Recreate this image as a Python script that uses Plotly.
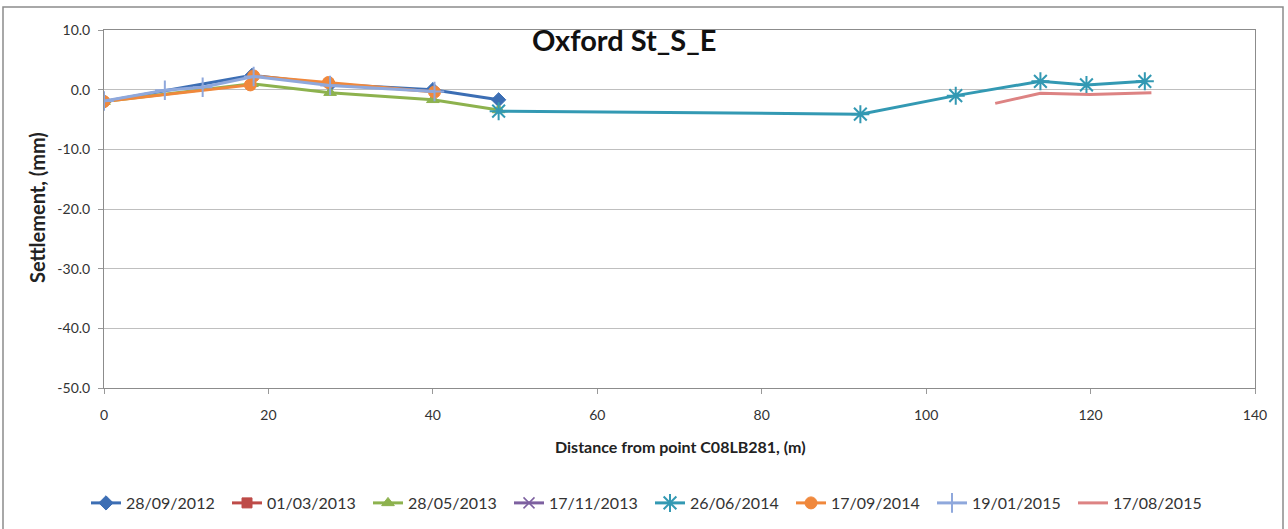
import plotly.graph_objects as go

# ---- data ----
names = ["28/09/2012", "01/03/2013", "28/05/2013", "17/11/2013",
         "26/06/2014", "17/09/2014", "19/01/2015", "17/08/2015"]

x_20120928 = [0, 18, 27.5, 40, 48]
y_20120928 = [-2.0, 2.4, 0.9, 0.0, -1.7]

x_20130301 = [None]
y_20130301 = [None]

x_20130528 = [0, 18, 27.5, 40, 48]
y_20130528 = [-2.0, 1.0, -0.5, -1.7, -3.4]

x_20131117 = [None]
y_20131117 = [None]

x_20140626 = [48, 92, 103.6, 113.9, 119.5, 126.6]
y_20140626 = [-3.6, -4.1, -1.0, 1.4, 0.8, 1.4]

x_20140917 = [0, 17.8, 18.2, 27.3, 40.2]
y_20140917 = [-2.0, 0.8, 2.3, 1.2, -0.4]

x_20150119 = [0, 7.4, 12.0, 18.2, 27.5, 40.2]
y_20150119 = [-1.9, -0.1, 0.4, 2.2, 0.7, -0.3]

x_20150817 = [108.4, 113.9, 119.9, 127.4]
y_20150817 = [-2.3, -0.6, -0.8, -0.5]

x_ticks = [0, 20, 40, 60, 80, 100, 120, 140]
y_ticks = [10, 0, -10, -20, -30, -40, -50]

# ---- styles ----
FONT = "Lato, 'Open Sans', sans-serif"
series = [
    (names[0], x_20120928, y_20120928, "#3C6EB4", "diamond", 11, 1),
    (names[1], x_20130301, y_20130301, "#BE4B48", "square", 10, 1),
    (names[2], x_20130528, y_20130528, "#8DB24E", "triangle-up", 11, 1),
    (names[3], x_20131117, y_20131117, "#7D60A0", "x-thin-open", 11, 1.5),
    (names[4], x_20140626, y_20140626, "#3399B3", "asterisk-open", 15, 2),
    (names[5], x_20140917, y_20140917, "#F0883C", "circle", 12, 1),
    (names[6], x_20150119, y_20150119, "#8FA8DC", "cross-thin-open", 14, 2),
]

fig = go.Figure()
for name, xs, ys, col, sym, size, lw in series:
    fig.add_trace(go.Scatter(
        x=xs, y=ys, name=name, mode="lines+markers",
        line=dict(color=col, width=3),
        marker=dict(symbol=sym, size=size, color=col, line=dict(color=col, width=lw)),
    ))
fig.add_trace(go.Scatter(
    x=x_20150817, y=y_20150817, name=names[7], mode="lines",
    line=dict(color="#DD8383", width=3),
))

fig.update_layout(
    width=1288, height=529,
    margin=dict(l=104, r=33, t=30, b=141),
    paper_bgcolor="white", plot_bgcolor="white",
    font=dict(family=FONT, size=14, color="#333333"),
    showlegend=True,
    legend=dict(orientation="h", xref="container", yref="container",
                x=650 / 1288, xanchor="center", y=(529 - 503) / 529, yanchor="middle",
                font=dict(family=FONT, size=16, color="#333333"),
                entrywidth=96, entrywidthmode="pixels", itemwidth=30,
                traceorder="normal"),
    xaxis=dict(range=[0, 140], tickvals=x_ticks, ticks="outside", ticklen=5,
               tickcolor="#999999", showgrid=False, zeroline=False,
               showline=True, linecolor="#8C8C8C", linewidth=1, mirror=True,
               ticklabelstandoff=9, automargin=False,
               tickfont=dict(family=FONT, size=14, color="#333333")),
    yaxis=dict(range=[-50, 10], tickvals=y_ticks,
               ticktext=[f"{v:.1f}" for v in y_ticks], ticks="outside",
               ticklen=5, tickcolor="#999999", showgrid=True, gridcolor="#BFBFBF",
               gridwidth=1, zeroline=False, showline=True, linecolor="#8C8C8C",
               linewidth=1, mirror=True, ticklabelstandoff=5, automargin=False,
               tickfont=dict(family=FONT, size=14, color="#333333")),
    annotations=[
        dict(text="<b>Oxford St_S_E</b>", x=(624 - 104) / 1151, y=(388 - 39) / 358,
             xref="paper", yref="paper", showarrow=False, xanchor="center", yanchor="middle",
             font=dict(family=FONT, size=29, color="#111111")),
        dict(text="<b>Distance from point C08LB281, (m)</b>", x=(680 - 104) / 1151,
             y=(388 - 447) / 358, xref="paper", yref="paper", showarrow=False,
             xanchor="center", yanchor="middle",
             font=dict(family=FONT, size=16, color="#222222")),
        dict(text="<b>Settlement, (mm)</b>", x=(37 - 104) / 1151, y=(388 - 208) / 358,
             xref="paper", yref="paper", showarrow=False, textangle=-90,
             xanchor="center", yanchor="middle",
             font=dict(family=FONT, size=20, color="#222222")),
    ],
    shapes=[
        dict(type="rect", xref="paper", yref="paper",
             x0=(3 - 104) / 1151, x1=(1283 - 104) / 1151,
             y0=(388 - 540) / 358, y1=(388 - 7) / 358,
             line=dict(color="#8C8C8C", width=1.5), fillcolor="rgba(0,0,0,0)", layer="below"),
    ],
)

fig.write_html("out.html", config={"displayModeBar": False},
               post_script="document.body.style.margin='0px';")
